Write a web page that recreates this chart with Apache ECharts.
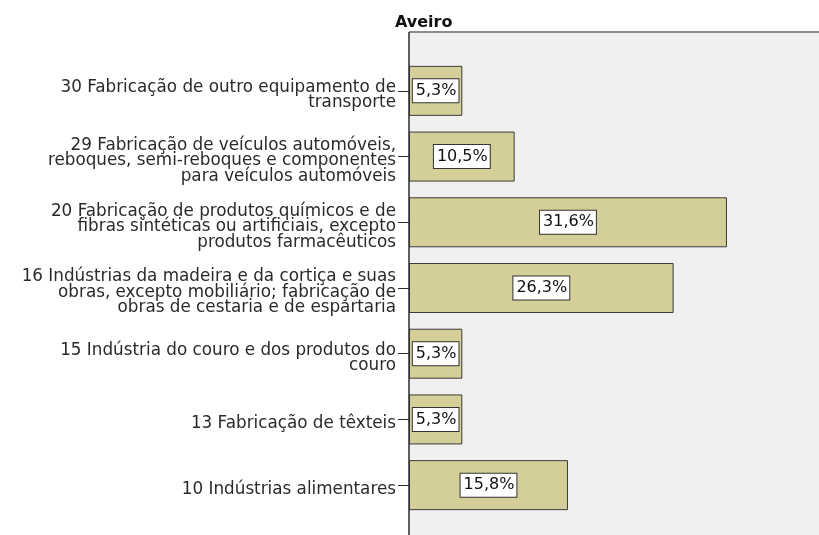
<!DOCTYPE html>
<html>
<head>
<meta charset="utf-8">
<script src="https://cdn.jsdelivr.net/npm/echarts@6/dist/echarts.min.js"></script>
<style>
html,body{margin:0;padding:0;background:#fff;}
#main{width:819px;height:535px;}
</style>
</head>
<body>
<div id="main"></div>
<script>
var categorias = [
	'30 Fabricação de outro equipamento de\ntransporte',
	'29 Fabricação de veículos automóveis,\nreboques, semi-reboques e componentes\npara veículos automóveis',
	'20 Fabricação de produtos químicos e de\nfibras sintéticas ou artificiais, excepto\nprodutos farmacêuticos',
	'16 Indústrias da madeira e da cortiça e suas\nobras, excepto mobiliário; fabricação de\nobras de cestaria e de espartaria',
	'15 Indústria do couro e dos produtos do\ncouro',
	'13 Fabricação de têxteis',
	'10 Indústrias alimentares'
];
var percentagens = [5.3, 10.5, 31.6, 26.3, 5.3, 5.3, 15.8];
var titulo = 'Aveiro';

var chart = echarts.init(document.getElementById('main'));
var fonte = 'DejaVu Sans';
var option = {
	animation: false,
	title: {
		text: titulo,
		left: 390,
		top: 10,
		textStyle: {fontFamily: fonte, fontSize: 16, fontWeight: 'bold', color: '#111'}
	},
	graphic: [
		{type: 'rect', z: -10, shape: {x: 409, y: 32, width: 420, height: 510}, style: {fill: '#f0f0f0'}},
		{type: 'line', z: 10, shape: {x1: 409, y1: 32, x2: 819, y2: 32}, style: {stroke: '#8c8c8c', lineWidth: 2}},
		{type: 'line', z: 10, shape: {x1: 409, y1: 32, x2: 409, y2: 535}, style: {stroke: '#2b2b2b', lineWidth: 1.5}}
	],
	grid: {left: 409, right: 0, top: 58, height: 460, containLabel: false},
	xAxis: {
		type: 'value',
		min: 0,
		max: 40.75,
		show: false
	},
	yAxis: {
		type: 'category',
		inverse: true,
		data: categorias,
		axisLine: {show: false},
		axisTick: {show: true, length: 11, alignWithLabel: true, lineStyle: {color: '#2b2b2b', width: 1}},
		axisLabel: {
			margin: 13,
			align: 'right',
			// linha vazia em cima para descer o texto uns px, como no original
			formatter: function (v) {
				return '{g|}\n' + v.split('\n').map(function (l) { return '{t|' + l + '}'; }).join('\n');
			},
			rich: {
				g: {fontSize: 1, lineHeight: 9},
				t: {fontFamily: fonte, fontSize: 16.8, lineHeight: 15.5, color: '#2a2a2a', align: 'right'}
			}
		}
	},
	series: [{
		type: 'bar',
		data: percentagens,
		barWidth: 50,
		itemStyle: {color: '#d4cf99', borderColor: '#3a3a3a', borderWidth: 1},
		label: {
			show: true,
			position: 'inside',
			formatter: function (p) { return p.value.toFixed(1).replace('.', ',') + '%'; },
			fontFamily: fonte,
			fontSize: 16,
			lineHeight: 19,
			color: '#111',
			backgroundColor: '#fff',
			borderColor: '#333',
			borderWidth: 1,
			padding: [2, 2, 2, 3]
		}
	}]
};
chart.setOption(option);
</script>
</body>
</html>
